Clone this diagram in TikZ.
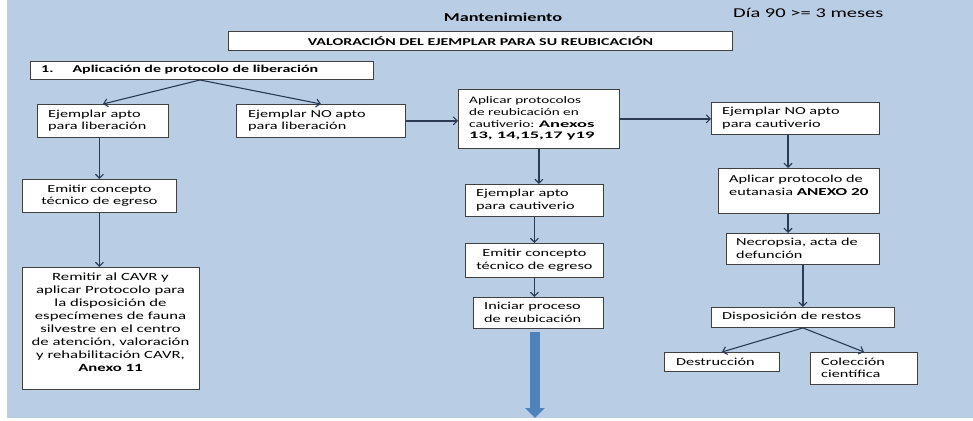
\documentclass[tikz,border=0pt]{standalone}
\usepackage{fontspec}
\setmainfont[FakeStretch=1.52]{Carlito}
\newfontfamily\wbf[FakeStretch=1.85]{Carlito}
\newfontfamily\mbf[FakeStretch=1.6]{Carlito}
\usetikzlibrary{arrows.meta,calc}
\definecolor{bg}{HTML}{B9CDE5}
\definecolor{ln}{HTML}{2B3A55}
\definecolor{bluearr}{HTML}{4F81BD}
\begin{document}
\begin{tikzpicture}[x=1pt,y=-1pt,
  bx/.style={draw=black!75, fill=white, line width=0.9pt, inner sep=0pt, anchor=north west},
  tx/.style={inner sep=0pt, font=\fontsize{10.7}{12.5}\selectfont, align=left, anchor=west},
  tc/.style={inner sep=0pt, font=\fontsize{10.7}{12.5}\selectfont, align=center},
  conn/.style={draw=ln, line width=1.1pt, -{Straight Barb[length=4pt,width=8pt]}}]
\useasboundingbox (0,0) rectangle (973,420);
\fill[white] (0,0) rectangle (973,420);
\fill[bg] (7,0) rectangle (973,418);

% headers
\node[inner sep=0pt, font={\bfseries\fontsize{12}{14}\selectfont}] (mant) at (503,17) {Mantenimiento};
\node[inner sep=0pt, anchor=west, font={\fontsize{13.5}{15}\selectfont}] (dia) at (733,13) {Día 90 >= 3 meses};

% boxes
\node[bx, minimum width=504pt, minimum height=19pt] (title) at (228,31) {};
\node[tc, font={\bfseries\fontsize{10.5}{12.5}\selectfont}] (titletx) at (title.center) {VALORACIÓN DEL EJEMPLAR PARA SU REUBICACIÓN};

\node[bx, minimum width=343pt, minimum height=18pt] (lib) at (30,61) {};
\node[tx, font={\bfseries\fontsize{10.5}{12.5}\selectfont}] (libtx) at (41,70) {1.\hspace{19pt}Aplicación de protocolo de liberación};

\node[bx, minimum width=131pt, minimum height=33pt] (aptoLib) at (37,104) {};
\node[tx] (aptoLibtx) at (48,120.5) {Ejemplar apto\\para liberación};

\node[bx, minimum width=169pt, minimum height=33pt] (noLib) at (236,104) {};
\node[tx] (noLibtx) at (248,120.5) {Ejemplar NO apto\\para liberación};

\node[bx, minimum width=154pt, minimum height=33pt] (emit1) at (22,179) {};
\node[tc] (emit1tx) at (emit1.center) {Emitir concepto\\técnico de egreso};

\node[bx, minimum width=177pt, minimum height=122pt] (remit) at (22,267) {};
\node[tc, font=\fontsize{11}{13}\selectfont] (remittx) at (110.5,322.5) {Remitir al CAVR y\\aplicar Protocolo para\\la disposición de\\especímenes de fauna\\silvestre en el centro\\de atención, valoración\\y rehabilitación CAVR,\\\textbf{Anexo 11}};

\node[bx, minimum width=161pt, minimum height=59pt] (aplic) at (458,89) {};
\node[tx, font=\fontsize{10}{11.7}\selectfont] (aplictx) at (469,118.5) {Aplicar protocolos\\de reubicación en\\cautiverio: {\wbf\bfseries Anexos}\\{\wbf\bfseries 13, 14,15,17 y19}};

\node[bx, minimum width=138pt, minimum height=32pt] (aptoCaut) at (465,184) {};
\node[tx] (aptoCauttx) at (476,200) {Ejemplar apto\\para cautiverio};

\node[bx, minimum width=138pt, minimum height=34pt] (emit2) at (465,243) {};
\node[tc] (emit2tx) at (emit2.center) {Emitir concepto\\técnico de egreso};

\node[bx, minimum width=130pt, minimum height=31pt] (inic) at (473,297) {};
\node[tx] (inictx) at (484,312.5) {Iniciar proceso\\de reubicación};

\node[bx, minimum width=168pt, minimum height=32pt] (noCaut) at (711,102) {};
\node[tx] (noCauttx) at (722,118) {Ejemplar NO apto\\para cautiverio};

\node[bx, minimum width=161pt, minimum height=45pt] (euta) at (718,168) {};
\node[tx] (eutatx) at (729,185.5) {Aplicar protocolo de\\eutanasia {\mbf\bfseries ANEXO 20}};

\node[bx, minimum width=153pt, minimum height=31pt] (necro) at (726,233) {};
\node[tx] (necrotx) at (736,248.5) {Necropsia, acta de\\defunción};

\node[bx, minimum width=183pt, minimum height=20pt] (disp) at (711,307) {};
\node[tx] (disptx) at (722,317) {Disposición de restos};

\node[bx, minimum width=115pt, minimum height=19pt] (destr) at (664,352) {};
\node[tx] (destrtx) at (676,361.5) {Destrucción};

\node[bx, minimum width=107pt, minimum height=32pt] (colec) at (810,352) {};
\node[tx] (colectx) at (821,368) {Colección\\científica};

% connectors
\coordinate (ap) at (200,80);
\draw[conn] (ap) -- (aptoLib.north);
\draw[conn] (ap) -- (noLib.north);
\draw[conn] (aptoLib.south -| emit1.north) -- (emit1.north);
\draw[conn] (emit1.south) -- (emit1.south |- remit.north);
\draw[conn] (noLib.east) -- (noLib.east -| aplic.west);
\draw[conn] (aplic.east) -- (aplic.east -| noCaut.west);
\draw[conn] (aplic.south) -- (aplic.south |- aptoCaut.north);
\draw[conn] (aptoCaut.south) -- (emit2.north);
\draw[conn] (emit2.south) -- (emit2.south |- inic.north);
\coordinate (cx) at (788,0);
\draw[conn] (noCaut.south -| cx) -- (euta.north -| cx);
\draw[conn] (euta.south -| cx) -- (necro.north -| cx);
\draw[conn] (necro.south -| disp.north) -- (disp.north);
\draw[conn] (disp.south) -- (destr.north);
\draw[conn] (disp.south) -- (colec.north);

% big blue arrow
\coordinate (bigend) at (535,418);
\draw[bluearr, line width=10pt, -{Triangle[length=10pt,width=19pt]}] ([yshift=-3pt]inic.south -| bigend) -- (bigend);
\end{tikzpicture}
\end{document}
